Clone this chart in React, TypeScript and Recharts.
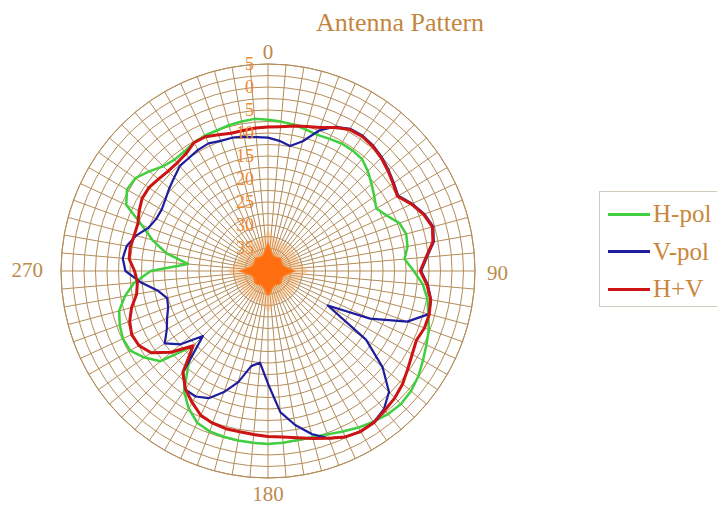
import React from 'react';
import { RadarChart, PolarGrid, PolarAngleAxis, PolarRadiusAxis, Radar, Legend } from 'recharts';

const angles = [
  0, 5, 10, 15, 20, 25, 30, 35, 40, 45, 50, 55, 60, 65, 70, 75, 80, 85,
  90, 95, 100, 105, 110, 115, 120, 125, 130, 135, 140, 145, 150, 155, 160, 165, 170, 175,
  180, 185, 190, 195, 200, 205, 210, 215, 220, 225, 230, 235, 240, 245, 250, 255, 260, 265,
  270, 275, 280, 285, 290, 295, 300, 305, 310, 315, 320, 325, 330, 335, 340, 345, 350, 355,
];

const hPol = [
  -7.1, -7.4, -7.7, -8.2, -8.5, -8.3, -8.0, -8.0, -8.2, -9.3, -10.6, -11.8, -12.8, -11.5, -9.6, -8.9, -9.2, -10.2,
  -8.3, -6.2, -4.8, -3.9, -2.8, -2.0, -1.1, -0.1, 0.6, 0.9, 0.6, 0.0, -0.7, -1.5, -2.2, -2.6, -2.7, -2.5,
  -2.4, -2.5, -2.6, -2.7, -2.9, -3.6, -5.5, -8.2, -13.0, -16.8, -9.5, -7.2, -5.4, -5.2, -5.7, -6.5, -8.4, -10.8,
  -14.5, -22.5, -17.5, -14.0, -10.8, -6.0, -4.6, -4.8, -6.3, -7.8, -8.4, -8.3, -7.8, -7.5, -7.5, -7.2, -7.0, -6.8,
];

const vPol = [
  -11.0, -11.6, -12.4, -10.8, -7.5, -5.4, -4.3, -4.1, -4.4, -5.0, -5.8, -6.6, -7.3, -5.4, -3.8, -2.8, -3.4, -5.3,
  -6.7, -5.1, -4.0, -3.8, -7.8, -15.5, -25.0, -14.0, -7.5, -2.8, -0.8, 0.1, 0.3, -0.2, -1.3, -3.3, -6.0, -9.2,
  -15.5, -20.0, -19.0, -15.0, -12.0, -9.5, -8.5, -8.6, -11.3, -20.0, -15.2, -12.6, -14.6, -15.8, -16.9, -17.3, -15.6, -12.2,
  -9.0, -8.3, -8.8, -10.3, -12.4, -13.2, -13.3, -12.8, -12.0, -11.2, -10.2, -10.0, -9.6, -9.4, -9.9, -10.0, -10.4, -10.8,
];

const hPlusV = [
  -8.7, -8.5, -8.0, -7.5, -6.8, -5.6, -4.5, -4.3, -4.6, -5.2, -6.0, -6.8, -7.5, -5.6, -4.0, -3.0, -3.6, -5.5,
  -6.9, -5.3, -4.1, -3.7, -3.8, -4.4, -3.8, -2.9, -1.8, -1.0, -0.5, 0.2, 0.3, -0.2, -1.3, -2.3, -3.2, -3.8,
  -4.0, -4.3, -4.5, -4.5, -4.8, -5.4, -7.0, -8.7, -11.2, -17.0, -12.5, -9.0, -7.6, -7.3, -8.0, -9.3, -11.0, -11.5,
  -11.0, -9.7, -9.6, -9.9, -9.9, -9.1, -8.4, -8.4, -8.9, -9.3, -9.3, -8.9, -7.8, -7.8, -8.5, -9.0, -9.0, -8.8,
];

// decorative orange hub at the pole of the grid
const hub = [
  -34.0, -35.2, -35.9, -36.3, -36.5, -36.6, -36.6, -36.5, -36.3, -36.1, -36.3, -36.5, -36.6, -36.6, -36.5, -36.3, -35.9, -35.2,
  -34.3, -35.3, -35.9, -36.3, -36.5, -36.6, -36.6, -36.5, -36.3, -36.1, -36.3, -36.5, -36.6, -36.6, -36.5, -36.3, -35.9, -35.2,
  -34.8, -35.5, -36.0, -36.3, -36.5, -36.6, -36.6, -36.5, -36.3, -36.1, -36.3, -36.5, -36.6, -36.6, -36.5, -36.3, -35.9, -35.2,
  -34.0, -35.2, -35.9, -36.3, -36.5, -36.6, -36.6, -36.5, -36.3, -36.1, -36.3, -36.5, -36.6, -36.6, -36.5, -36.3, -35.9, -35.2,
];
const halo = [
  -31.0, -32.0, -32.6, -32.9, -33.0, -33.0, -33.0, -33.0, -32.9, -32.7, -32.9, -33.0, -33.0, -33.0, -33.0, -32.9, -32.6, -32.0,
  -31.0, -32.0, -32.6, -32.9, -33.0, -33.0, -33.0, -33.0, -32.9, -32.7, -32.9, -33.0, -33.0, -33.0, -33.0, -32.9, -32.6, -32.0,
  -31.0, -32.0, -32.6, -32.9, -33.0, -33.0, -33.0, -33.0, -32.9, -32.7, -32.9, -33.0, -33.0, -33.0, -33.0, -32.9, -32.6, -32.0,
  -31.0, -32.0, -32.6, -32.9, -33.0, -33.0, -33.0, -33.0, -32.9, -32.7, -32.9, -33.0, -33.0, -33.0, -33.0, -32.9, -32.6, -32.0,
];

const angleTickLabels = ['0', '90', '180', '270'];
const radiusTicks = [-40, -37.5, -35, -32.5, -30, -27.5, -25, -22.5, -20, -17.5, -15, -12.5, -10, -7.5, -5, -2.5, 0, 2.5, 5];
const radiusLabelValues = [5, 0, -5, -10, -15, -20, -25, -30, -35];
const legendOrder = ['H-pol', 'V-pol', 'H+V'];

const data = angles.map((a, i) => ({
  angle: a,
  h: hPol[i],
  v: vPol[i],
  hv: hPlusV[i],
  hub: hub[i],
  halo: halo[i],
}));

const SERIF = '"Liberation Serif", "DejaVu Serif", serif';

const AngleTick = (props: any) => {
  const { x, y, payload } = props;
  const label = String(payload.value);
  if (!angleTickLabels.includes(label)) return null;
  let tx = x;
  let ty = y;
  let anchor: any = 'middle';
  if (label === '0') { ty = y + 3; }
  else if (label === '90') { tx = x + 4; ty = y + 9; anchor = 'start'; }
  else if (label === '180') { ty = y + 15; }
  else if (label === '270') { tx = x - 10; ty = y + 6; anchor = 'end'; }
  return (
    <text x={tx} y={ty} textAnchor={anchor} fontFamily={SERIF} fontSize={21} fill="#bb8a4c">
      {label}
    </text>
  );
};

const RadiusTick = (props: any) => {
  const { x, y, payload } = props;
  const v = Number(payload.value);
  if (!radiusLabelValues.includes(v)) return null;
  return (
    <text x={x - 14} y={y + 6} textAnchor="end" fontFamily={SERIF} fontSize={18} fill="#ee8a30">
      {String(Math.abs(v))}
    </text>
  );
};

const LegendBox = (props: any) => {
  const items = (props.payload || [])
    .filter((p: any) => legendOrder.includes(p.value))
    .sort((a: any, b: any) => legendOrder.indexOf(a.value) - legendOrder.indexOf(b.value));
  return (
    <div
      style={{
        position: 'relative',
        width: 121,
        height: 116,
        border: '1px solid #cfc8bb',
        boxSizing: 'border-box',
        background: '#fff',
      }}
    >
      {items.map((it: any, i: number) => (
        <div
          key={it.value}
          style={{
            position: 'absolute',
            left: 8,
            top: 6 + i * 37.5,
            height: 32,
            display: 'flex',
            alignItems: 'center',
          }}
        >
          <div style={{ width: 42, height: 3, background: it.color }} />
          <span
            style={{
              marginLeft: 3,
              fontFamily: SERIF,
              fontSize: 25,
              lineHeight: '32px',
              color: '#c8873c',
              whiteSpace: 'nowrap',
            }}
          >
            {it.value}
          </span>
        </div>
      ))}
    </div>
  );
};

export default function App() {
  return (
    <div style={{ position: 'relative', width: 725, height: 506, background: '#fff' }}>
      <div
        style={{
          position: 'absolute',
          left: 392,
          top: 2,
          transform: 'translateX(-50%)',
          fontFamily: SERIF,
          fontSize: 26,
          lineHeight: '26px',
          color: '#c4853f',
          whiteSpace: 'nowrap',
        }}
      >
        Antenna Pattern
      </div>
      <RadarChart
        width={725}
        height={506}
        cx={260}
        cy={263}
        outerRadius={207}
        startAngle={90}
        endAngle={-270}
        data={data}
        margin={{ top: 0, right: 0, bottom: 0, left: 0 }}
      >
        <PolarGrid gridType="circle" stroke="#b38d5a" strokeWidth={1} />
        <PolarAngleAxis
          dataKey="angle"
          tick={<AngleTick />}
          tickLine={false}
          axisLine={{ stroke: '#b38d5a' }}
        />
        <PolarRadiusAxis
          angle={90}
          type="number"
          domain={[-40, 5]}
          ticks={radiusTicks as any}
          tickCount={19}
          axisLine={false}
          tickLine={false}
          tick={<RadiusTick />}
        />
        <Radar
          dataKey="halo"
          name="halo"
          legendType="none"
          stroke="none"
          fill="#f8a050"
          fillOpacity={0.35}
          isAnimationActive={false}
        />
        <Radar
          dataKey="hub"
          name="hub"
          legendType="none"
          stroke="#ff7a1a"
          strokeWidth={1.5}
          fill="#ff6e10"
          fillOpacity={1}
          isAnimationActive={false}
        />
        <Radar
          dataKey="h"
          name="H-pol"
          stroke="#3fcf3f"
          strokeWidth={2.5}
          fill="none"
          fillOpacity={0}
          strokeLinejoin="round"
          isAnimationActive={false}
        />
        <Radar
          dataKey="v"
          name="V-pol"
          stroke="#1d1d9e"
          strokeWidth={2.2}
          fill="none"
          fillOpacity={0}
          strokeLinejoin="round"
          isAnimationActive={false}
        />
        <Radar
          dataKey="hv"
          name="H+V"
          stroke="#cc1414"
          strokeWidth={3}
          fill="none"
          fillOpacity={0}
          strokeLinejoin="round"
          isAnimationActive={false}
        />
        <Legend
          layout="vertical"
          align="right"
          verticalAlign="top"
          content={<LegendBox />}
          wrapperStyle={{ position: 'absolute', left: 591, top: 183, width: 121 }}
        />
      </RadarChart>
    </div>
  );
}
